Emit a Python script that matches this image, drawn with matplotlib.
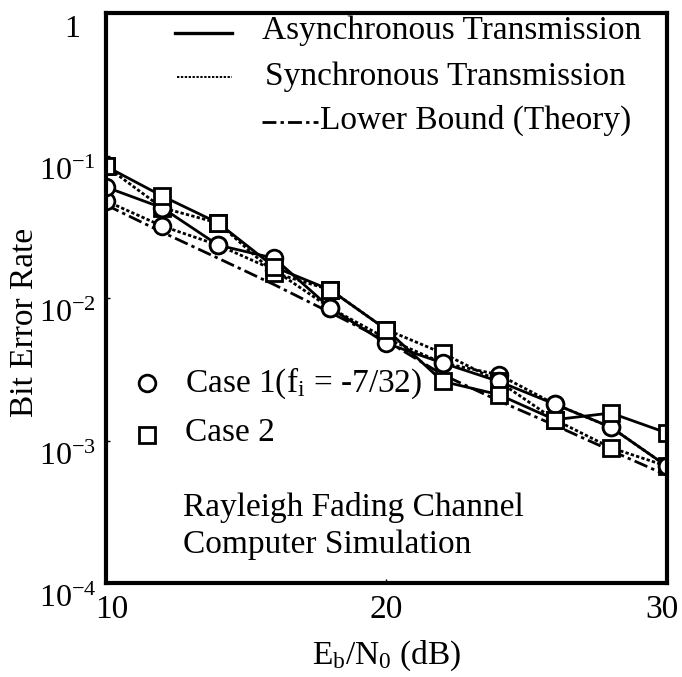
import matplotlib
matplotlib.use('Agg')
import matplotlib.pyplot as plt
from matplotlib.lines import Line2D
from matplotlib.transforms import ScaledTranslation

plt.rcParams['font.family'] = ['Liberation Serif', 'DejaVu Serif']
plt.rcParams['mathtext.fontset'] = 'custom'
plt.rcParams['mathtext.rm'] = 'Liberation Serif'
plt.rcParams['mathtext.it'] = 'Liberation Serif:italic'

# Eb/N0 in dB
snr_db = [10, 12, 14, 16, 18, 20, 22, 24, 26, 28, 30]

# Case 1 (fi = -7/32)
case1_async = [0.060, 0.043, 0.0235, 0.019, 0.0085, 0.0048, 0.0035, 0.0026, 0.0018, 0.00124, 0.00066]
case1_sync = [0.048, 0.032, 0.0235, 0.0157, 0.0085, 0.0052, 0.0035, 0.0029, 0.0018, 0.00124, 0.00066]
# Case 2
case2_async = [0.084, 0.052, 0.0336, 0.0165, 0.0114, 0.0060, 0.0026, 0.0021, 0.0014, 0.00156, 0.00113]
case2_sync = [0.084, 0.043, 0.0336, 0.0150, 0.0114, 0.0060, 0.0041, 0.0026, 0.0014, 0.00089, 0.00066]
# theoretical lower bound
lower_bound = [0.045, 0.029, 0.019, 0.0124, 0.0079, 0.0050, 0.0029, 0.0019, 0.00128, 0.00085, 0.00057]

ytick_vals = [1e-4, 1e-3, 1e-2, 1e-1, 1]
ytick_labels = [r'$10^{-4}$', r'$10^{-3}$', r'$10^{-2}$', r'$10^{-1}$', '1']
xtick_vals = [10, 20, 30]

fs = 24

fig = plt.figure(figsize=(6.82, 6.77), dpi=100)
ax = fig.add_axes([0.1554, 0.1388, 0.8226, 0.842])

lw = 2.0
mk = dict(markersize=12, markerfacecolor='white', markeredgecolor='black', markeredgewidth=2.0)
dot = (0, (1.2, 0.8))
dashdot = (0, (5, 1.5, 1.2, 1.5))

ax.plot(snr_db, lower_bound, color='black', lw=lw, linestyle=dashdot)
ax.plot(snr_db, case1_sync, color='black', lw=lw, linestyle=dot, marker='o', **mk)
ax.plot(snr_db, case2_sync, color='black', lw=lw, linestyle=dot, marker='s', **mk)
ax.plot(snr_db, case1_async, color='black', lw=lw, linestyle='-', marker='o', **mk)
ax.plot(snr_db, case2_async, color='black', lw=lw, linestyle='-', marker='s', **mk)

ax.set_yscale('log')
ax.set_xlim(10, 30)
ax.set_ylim(1e-4, 1)
ax.minorticks_off()
ax.set_yticks(ytick_vals)
ax.set_yticklabels(ytick_labels, fontsize=23)
ax.set_xticks(xtick_vals)
ax.set_xticklabels([str(v) for v in xtick_vals], fontsize=fs)
ax.tick_params(axis='both', direction='in', length=3, width=1)
ax.tick_params(axis='y', pad=7)
ax.tick_params(axis='x', pad=8)
for sp in ax.spines.values():
    sp.set_linewidth(3)

# exponent labels sit a bit below their decade line
shift = ScaledTranslation(0, -13 / 100, fig.dpi_scale_trans)
ylabs = ax.get_yticklabels()
for lab in ylabs:
    lab.set_transform(lab.get_transform() + shift)
ylabs[-1].set_transform(ylabs[-1].get_transform() + ScaledTranslation(-0.16, 0, fig.dpi_scale_trans))
xlabs = ax.get_xticklabels()
xlabs[0].set_transform(xlabs[0].get_transform() + ScaledTranslation(0.06, 0, fig.dpi_scale_trans))
xlabs[-1].set_transform(xlabs[-1].get_transform() + ScaledTranslation(-0.05, 0, fig.dpi_scale_trans))

ax.set_ylabel('Bit Error Rate', fontsize=fs)
ax.yaxis.set_label_coords(-0.118, 0.458)
ax.set_xlabel(r'E$_\mathrm{b}$/N$_\mathrm{0}$ (dB)', fontsize=fs, labelpad=10)

# line style key in the upper right
tr = ax.transAxes
ax.add_line(Line2D([0.123, 0.225], [0.965, 0.965], color='black', lw=2.4, transform=tr))
ax.text(0.278, 0.968, 'Asynchronous Transmission', transform=tr, fontsize=fs, va='center')
ax.add_line(Line2D([0.126, 0.225], [0.888, 0.888], color='black', lw=1.4, linestyle=dot, transform=tr))
ax.text(0.283, 0.889, 'Synchronous Transmission', transform=tr, fontsize=fs, va='center')
ax.add_line(Line2D([0.278, 0.378], [0.809, 0.809], color='black', lw=2.0, linestyle=dashdot, transform=tr))
ax.text(0.381, 0.811, 'Lower Bound (Theory)', transform=tr, fontsize=fs, va='center')

# marker key
ax.add_line(Line2D([0.073], [0.351], marker='o', linestyle='none', transform=tr, **mk))
ax.text(0.141, 0.351, r'Case 1(f$_\mathrm{i}$ = -7/32)', transform=tr, fontsize=fs, va='center')
ax.add_line(Line2D([0.073], [0.260], marker='s', linestyle='none', transform=tr, **mk))
ax.text(0.141, 0.263, 'Case 2', transform=tr, fontsize=fs, va='center')

ax.text(0.137, 0.132, 'Rayleigh Fading Channel', transform=tr, fontsize=fs, va='center')
ax.text(0.137, 0.067, 'Computer Simulation', transform=tr, fontsize=fs, va='center')

fig.savefig('out.png', dpi=100)
